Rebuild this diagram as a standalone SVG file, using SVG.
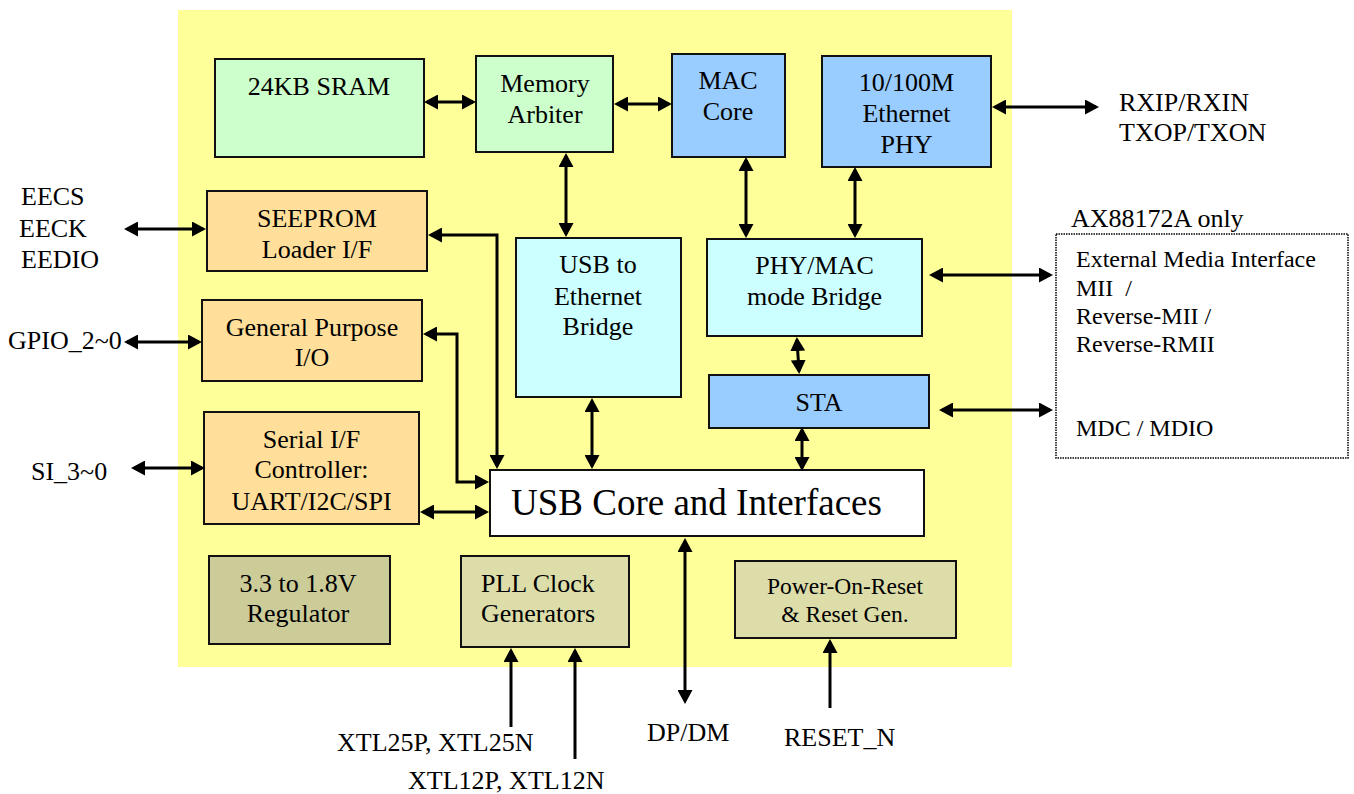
<svg xmlns="http://www.w3.org/2000/svg" width="1354" height="794" viewBox="0 0 1354 794">
<defs>
<marker id="ah" viewBox="0 0 14 15" refX="11" refY="7.5" markerWidth="14" markerHeight="15" markerUnits="userSpaceOnUse" orient="auto-start-reverse">
<path d="M0,0 L14,7.5 L0,15 z" fill="#000"/>
</marker>
<style>
.bx{stroke:#111;stroke-width:2}
.t{font-family:"Liberation Serif","Times New Roman",serif;font-size:26px;fill:#000}
.c{text-anchor:middle}
.s{font-size:23.5px}
.e{font-size:24px}
.big{font-size:37px}
.ln{fill:none;stroke:#000;stroke-width:3}
.bi{marker-start:url(#ah);marker-end:url(#ah)}
.un{marker-end:url(#ah)}
.g{fill:#CCFFCC}.b{fill:#99CCFF}.o{fill:#FFDF99}.cy{fill:#CCFFFF}.ol{fill:#CCCC99}.kh{fill:#DDDDAA}
</style>
</defs>
<rect x="0" y="0" width="1354" height="794" fill="#fff"/>
<rect id="chip" x="178" y="10" width="834" height="657" fill="#FFFF99"/>

<g id="sram"><rect class="bx g" x="215" y="59" width="209" height="98"/><text class="t c" x="319" y="95">24KB SRAM</text></g>
<g id="arbiter"><rect class="bx g" x="476" y="56" width="137" height="96"/><text class="t c" x="545" y="92">Memory</text><text class="t c" x="545" y="123">Arbiter</text></g>
<g id="mac"><rect class="bx b" x="672" y="54" width="113" height="103"/><text class="t c" x="728" y="89">MAC</text><text class="t c" x="728" y="120">Core</text></g>
<g id="phy"><rect class="bx b" x="822" y="56" width="169" height="111"/><text class="t c" x="906.5" y="91">10/100M</text><text class="t c" x="906.5" y="122">Ethernet</text><text class="t c" x="906.5" y="153">PHY</text></g>
<g id="seeprom"><rect class="bx o" x="207" y="191" width="220" height="80"/><text class="t c" x="317" y="227">SEEPROM</text><text class="t c" x="317" y="258">Loader I/F</text></g>
<g id="gpio"><rect class="bx o" x="202" y="300" width="220" height="81"/><text class="t c" x="312" y="336">General Purpose</text><text class="t c" x="312" y="366">I/O</text></g>
<g id="serial"><rect class="bx o" x="204" y="412" width="215" height="112"/><text class="t c" x="311.5" y="448">Serial I/F</text><text class="t c" x="311.5" y="478">Controller:</text><text class="t c" x="311.5" y="510">UART/I2C/SPI</text></g>
<g id="usbeth"><rect class="bx cy" x="516" y="238" width="165" height="159"/><text class="t c" x="598" y="273">USB to</text><text class="t c" x="598" y="305">Ethernet</text><text class="t c" x="598" y="335">Bridge</text></g>
<g id="phymac"><rect class="bx cy" x="707" y="239" width="215" height="97"/><text class="t c" x="814.5" y="274">PHY/MAC</text><text class="t c" x="814.5" y="305">mode Bridge</text></g>
<g id="sta"><rect class="bx b" x="709" y="375" width="220" height="53"/><text class="t c" x="819" y="411">STA</text></g>
<g id="usbcore"><rect class="bx" fill="#fff" x="490" y="470" width="434" height="66"/><text class="t big" x="511" y="515">USB Core and Interfaces</text></g>
<g id="regulator"><rect class="bx ol" x="209" y="556" width="181" height="88"/><text class="t c" x="298" y="592">3.3 to 1.8V</text><text class="t c" x="298" y="622">Regulator</text></g>
<g id="pll"><rect class="bx kh" x="461" y="556" width="168" height="91"/><text class="t" x="481" y="592">PLL Clock</text><text class="t" x="481" y="622">Generators</text></g>
<g id="por"><rect class="bx kh" x="735" y="561" width="221" height="77"/><text class="t c s" x="845" y="594">Power-On-Reset</text><text class="t c s" x="845" y="622">&amp; Reset Gen.</text></g>
<g id="external"><rect x="1056" y="234" width="292" height="224" fill="#fff" stroke="#000" stroke-width="1.5" stroke-dasharray="1.5 1"/>
<text class="t e" x="1076" y="267">External Media Interface</text>
<text class="t e" x="1076" y="296">MII&#160; /</text>
<text class="t e" x="1076" y="324">Reverse-MII /</text>
<text class="t e" x="1076" y="352">Reverse-RMII</text>
<text class="t e" x="1076" y="436">MDC / MDIO</text></g>

<g id="labels">
<text class="t" x="1071" y="227">AX88172A only</text>
<text class="t" x="1119" y="111">RXIP/RXIN</text>
<text class="t" x="1119" y="141">TXOP/TXON</text>
<text class="t" x="21" y="205">EECS</text>
<text class="t" x="19" y="237">EECK</text>
<text class="t" x="21" y="268">EEDIO</text>
<text class="t" x="8" y="349">GPIO_2~0</text>
<text class="t" x="31" y="480">SI_3~0</text>
<text class="t" x="337" y="751">XTL25P, XTL25N</text>
<text class="t" x="408" y="789">XTL12P, XTL12N</text>
<text class="t" x="647" y="741">DP/DM</text>
<text class="t" x="784" y="746">RESET_N</text>
</g>

<g id="connectors">
<path class="ln bi" d="M427,102 H473"/>
<path class="ln bi" d="M617,104 H669"/>
<path class="ln bi" d="M566,156 V234"/>
<path class="ln bi" d="M746,160 V235"/>
<path class="ln bi" d="M855,170 V235"/>
<path class="ln bi" d="M995,107 H1096"/>
<path class="ln bi" d="M127,229 H203"/>
<path class="ln bi" d="M431,235 H497 V466"/>
<path class="ln bi" d="M127,342 H199"/>
<path class="ln bi" d="M426,334 H457 V482 H486"/>
<path class="ln bi" d="M134,468 H202"/>
<path class="ln bi" d="M423,512 H486"/>
<path class="ln bi" d="M592,401 V466"/>
<path class="ln bi" d="M797,340 L799,371"/>
<path class="ln bi" d="M802,430 V468"/>
<path class="ln bi" d="M932,275 H1050"/>
<path class="ln bi" d="M942,410 H1050"/>
<path class="ln bi" d="M685,541 V701"/>
<path class="ln un" d="M511,727 V651"/>
<path class="ln un" d="M575,759 V651"/>
<path class="ln un" d="M830,708 V642"/>
</g>
</svg>
